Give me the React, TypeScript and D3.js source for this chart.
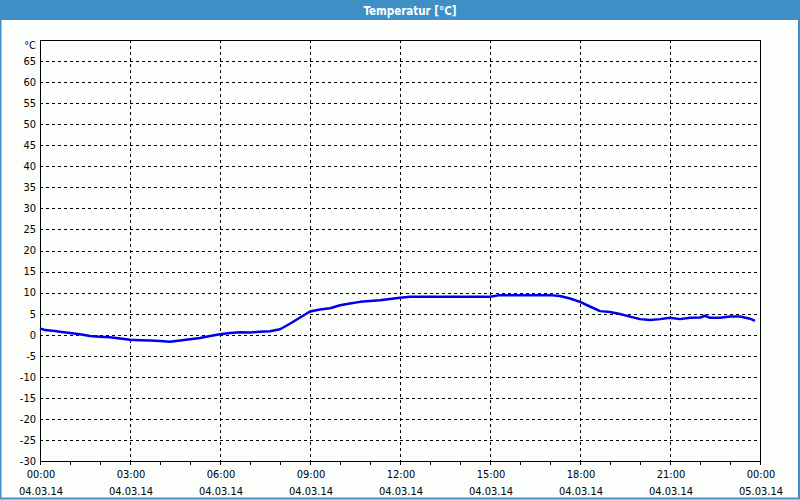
import React from 'react';
import * as d3 from 'd3';

// readings, hours since 04.03.14 00:00
const hours = [
  0, 0.17, 0.5, 0.67, 1, 1.33, 1.67, 2, 2.33, 2.67, 3, 3.33, 3.67, 4, 4.33, 4.67,
  5, 5.33, 5.67, 6, 6.33, 6.67, 7, 7.33, 7.67, 8, 8.33, 8.67, 9, 9.33, 9.67,
  10, 10.33, 10.67, 11, 11.33, 11.67, 12, 12.33, 13, 14, 15, 15.33, 16, 17,
  17.33, 17.67, 18, 18.33, 18.67, 19, 19.33, 19.67, 20, 20.33, 20.67, 21, 21.33,
  21.67, 22, 22.17, 22.33, 22.67, 23, 23.33, 23.67, 23.83,
];
const temps = [
  1.5, 1.1, 0.9, 0.7, 0.4, 0.1, -0.3, -0.5, -0.6, -0.9, -1.2, -1.3, -1.4, -1.5, -1.7, -1.4,
  -1.1, -0.8, -0.3, 0.1, 0.4, 0.6, 0.5, 0.7, 0.8, 1.3, 2.6, 4.1, 5.5, 6.0, 6.3,
  7.0, 7.4, 7.8, 8.0, 8.2, 8.5, 8.8, 9.0, 9.0, 9.0, 9.0, 9.4, 9.4, 9.4,
  9.2, 8.6, 7.8, 6.7, 5.6, 5.4, 4.9, 4.3, 3.7, 3.5, 3.7, 4.0, 3.7,
  4.0, 4.1, 4.5, 4.0, 4.0, 4.3, 4.3, 3.8, 3.3,
];

const yTicks = [-30, -25, -20, -15, -10, -5, 0, 5, 10, 15, 20, 25, 30, 35, 40, 45, 50, 55, 60, 65];
const xMajor = [0, 3, 6, 9, 12, 15, 18, 21, 24];
const timeLabels = ['00:00', '03:00', '06:00', '09:00', '12:00', '15:00', '18:00', '21:00', '00:00'];
const dateLabels = ['04.03.14', '04.03.14', '04.03.14', '04.03.14', '04.03.14', '04.03.14', '04.03.14', '04.03.14', '05.03.14'];

const font = '"DejaVu Sans Condensed", "DejaVu Sans", sans-serif';
const blue = '#3d8fc6';

export default function App() {
  const x = d3.scaleLinear().domain([0, 24]).range([40, 760]);
  const y = d3.scaleLinear().domain([-30, 70]).range([461, 40]);

  const line = d3.line<number>()
    .x((_, i) => x(hours[i]))
    .y(d => y(d));

  const minor = d3.range(0, 25);

  return (
    <svg width={800} height={500} style={{ position: 'absolute', left: 0, top: 0 }}
      fontFamily={font}>
      <rect x={0} y={0} width={800} height={500} fill="#fcfefc" />
      <rect x={0.5} y={0.5} width={798.5} height={498} fill="none" stroke={blue} strokeWidth={2} />
      <rect x={0} y={0} width={800} height={20} fill={blue} />
      <text x={410} y={14.5} textAnchor="middle" fill="#fff" fontWeight="bold" fontSize={11.5}>
        Temperatur [°C]
      </text>

      {/* grid */}
      <g stroke="#000" strokeDasharray="3,3" shapeRendering="crispEdges">
        {yTicks.filter(t => t > -30).map(t => (
          <line key={'h' + t} x1={x(0)} x2={x(24)} y1={Math.round(y(t)) + 0.5} y2={Math.round(y(t)) + 0.5} />
        ))}
        {xMajor.slice(1, -1).map(h => (
          <line key={'v' + h} x1={x(h) + 0.5} x2={x(h) + 0.5} y1={y(70)} y2={y(-30)} />
        ))}
      </g>

      {/* frame */}
      <rect x={x(0) + 0.5} y={y(70) + 0.5} width={x(24) - x(0)} height={y(-30) - y(70)}
        fill="none" stroke="#000" shapeRendering="crispEdges" />

      {/* hourly ticks */}
      <g stroke="#000" shapeRendering="crispEdges">
        {minor.map(h => (
          <line key={'t' + h} x1={x(h) + 0.5} x2={x(h) + 0.5} y1={y(-30)} y2={y(-30) + 4} />
        ))}
      </g>

      {/* y labels */}
      <g fontSize={11} fill="#000" textAnchor="end">
        {yTicks.map(t => (
          <text key={'yl' + t} x={36} y={y(t)} dy="0.35em">{t}</text>
        ))}
        <text x={36} y={45.5} dy="0.35em">°C</text>
      </g>

      {/* x labels */}
      <g fontSize={11} fill="#000" textAnchor="middle">
        {xMajor.map((h, i) => (
          <g key={'xl' + h}>
            <text x={x(h) + 1} y={474} dy="0.35em">{timeLabels[i]}</text>
            <text x={x(h) + 1} y={491} dy="0.35em">{dateLabels[i]}</text>
          </g>
        ))}
      </g>

      <path d={line(temps) ?? ''} fill="none" stroke="#0000ee" strokeWidth={2.5} strokeLinejoin="round" />
    </svg>
  );
}
